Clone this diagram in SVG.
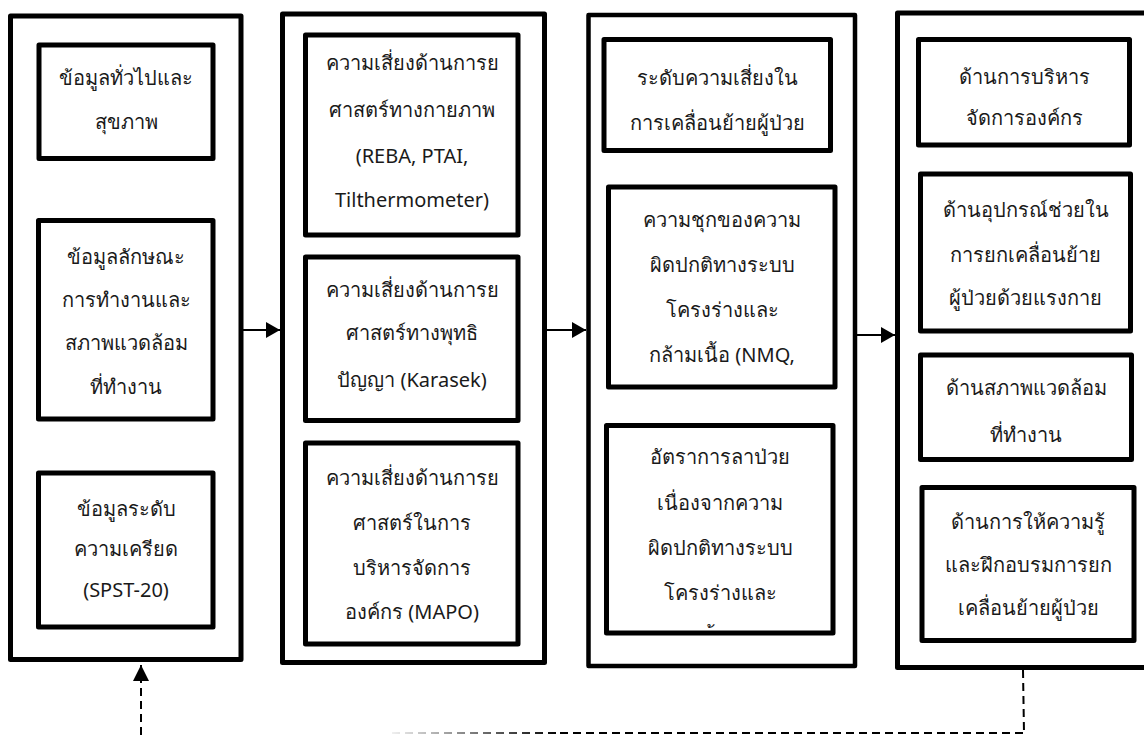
<svg xmlns="http://www.w3.org/2000/svg" width="1144" height="735" viewBox="0 0 1144 735">
<style>
.outer{fill:#fff;stroke:#000;stroke-width:5;stroke-linejoin:round}
.inner{fill:#fff;stroke:#000;stroke-width:5;stroke-linejoin:round}
.t{font-family:"Noto Sans","DejaVu Sans",sans-serif;font-size:20px;fill:#1a1a1a;text-anchor:middle}
.arrow{stroke:#000;stroke-width:2;fill:none}
.dash{stroke:#000;stroke-width:2;fill:none;stroke-dasharray:8 5}
</style>
<defs>
<marker id="ah" markerWidth="14" markerHeight="16" refX="14" refY="8" orient="auto" markerUnits="userSpaceOnUse">
<path d="M0,0 L14,8 L0,16 Z" fill="#000"/>
</marker>
<marker id="ahd" markerWidth="16" markerHeight="17" refX="16" refY="8" orient="auto" markerUnits="userSpaceOnUse">
<path d="M0,0 L16,8 L0,16 Z" fill="#000"/>
</marker>
<linearGradient id="fade" gradientUnits="userSpaceOnUse" x1="390" y1="0" x2="560" y2="0">
<stop offset="0" stop-color="#000" stop-opacity="0.05"/>
<stop offset="1" stop-color="#000" stop-opacity="1"/>
</linearGradient>
<clipPath id="clip3c"><rect x="609" y="428" width="222" height="200"/></clipPath>
</defs>

<g id="connectors">
<line class="arrow" x1="243" y1="330" x2="280" y2="330" marker-end="url(#ah)"/>
<line class="arrow" x1="547" y1="330" x2="586" y2="330" marker-end="url(#ah)"/>
<line class="arrow" x1="857" y1="335" x2="895" y2="335" marker-end="url(#ah)"/>
<line class="dash" x1="392" y1="733" x2="560" y2="733" style="stroke:url(#fade)"/>
<line class="dash" x1="1023" y1="670" x2="1024" y2="733"/>
<line class="dash" x1="560" y1="733" x2="1024" y2="733"/>
<line class="dash" x1="141" y1="735" x2="141" y2="665" marker-end="url(#ahd)"/>
</g>

<g id="col1">
<rect class="outer" x="10.5" y="16" width="230.5" height="643.5"/>
<g id="n1a">
<rect class="inner" x="39" y="45" width="174" height="113.5"/>
<text class="t" x="126" y="85">ข้อมูลทั่วไปและ</text>
<text class="t" x="126" y="129">สุขภาพ</text>
</g>
<g id="n1b">
<rect class="inner" x="38.5" y="220.5" width="174.5" height="198.5"/>
<text class="t" x="126" y="264">ข้อมูลลักษณะ</text>
<text class="t" x="126" y="307">การทำงานและ</text>
<text class="t" x="126" y="350">สภาพแวดล้อม</text>
<text class="t" x="126" y="394">ที่ทำงาน</text>
</g>
<g id="n1c">
<rect class="inner" x="38.5" y="473" width="174.5" height="154"/>
<text class="t" x="126" y="516">ข้อมูลระดับ</text>
<text class="t" x="126" y="556">ความเครียด</text>
<text class="t" x="126" y="597">(SPST-20)</text>
</g>
</g>

<g id="col2">
<rect class="outer" x="282.5" y="14" width="262" height="648.5"/>
<g id="n2a">
<rect class="inner" x="305.5" y="35" width="212.5" height="200"/>
<text class="t" x="412" y="70">ความเสี่ยงด้านการย</text>
<text class="t" x="412" y="117">ศาสตร์ทางกายภาพ</text>
<text class="t" x="412" y="163">(REBA, PTAI,</text>
<text class="t" x="412" y="207">Tilthermometer)</text>
</g>
<g id="n2b">
<rect class="inner" x="305.5" y="257" width="212.5" height="163.5"/>
<text class="t" x="412" y="297">ความเสี่ยงด้านการย</text>
<text class="t" x="412" y="340">ศาสตร์ทางพุทธิ</text>
<text class="t" x="412" y="387">ปัญญา (Karasek)</text>
</g>
<g id="n2c">
<rect class="inner" x="305.5" y="443" width="212.5" height="201"/>
<text class="t" x="412" y="485">ความเสี่ยงด้านการย</text>
<text class="t" x="412" y="530">ศาสตร์ในการ</text>
<text class="t" x="412" y="575">บริหารจัดการ</text>
<text class="t" x="412" y="619">องค์กร (MAPO)</text>
</g>
</g>

<g id="col3">
<rect class="outer" x="588.5" y="15" width="266.5" height="651" style="stroke-width:4.5"/>
<g id="n3a">
<rect class="inner" x="604" y="39.5" width="226.5" height="111"/>
<text class="t" x="717" y="85">ระดับความเสี่ยงใน</text>
<text class="t" x="717" y="130">การเคลื่อนย้ายผู้ป่วย</text>
</g>
<g id="n3b">
<rect class="inner" x="608.5" y="187" width="226.5" height="200"/>
<text class="t" x="722" y="227">ความชุกของความ</text>
<text class="t" x="722" y="272">ผิดปกติทางระบบ</text>
<text class="t" x="722" y="317">โครงร่างและ</text>
<text class="t" x="722" y="362">กล้ามเนื้อ (NMQ,</text>
</g>
<g id="n3c">
<rect class="inner" x="606.5" y="425.5" width="226.5" height="207.5"/>
<text class="t" x="720" y="464">อัตราการลาป่วย</text>
<text class="t" x="720" y="510">เนื่องจากความ</text>
<text class="t" x="720" y="555">ผิดปกติทางระบบ</text>
<text class="t" x="720" y="600">โครงร่างและ</text>
<text class="t" x="720" y="645" clip-path="url(#clip3c)">กล้ามเนื้อ (NMQ,</text>
</g>
</g>

<g id="col4">
<rect class="outer" x="897.5" y="13" width="262" height="654.5"/>
<g id="n4a">
<rect class="inner" x="918.5" y="39.5" width="211" height="105.5"/>
<text class="t" x="1024" y="84">ด้านการบริหาร</text>
<text class="t" x="1024" y="125">จัดการองค์กร</text>
</g>
<g id="n4b">
<rect class="inner" x="920.5" y="174" width="210" height="157"/>
<text class="t" x="1025.5" y="217">ด้านอุปกรณ์ช่วยใน</text>
<text class="t" x="1025.5" y="262">การยกเคลื่อนย้าย</text>
<text class="t" x="1025.5" y="305">ผู้ป่วยด้วยแรงกาย</text>
</g>
<g id="n4c">
<rect class="inner" x="920.5" y="355" width="211" height="104.5"/>
<text class="t" x="1026" y="395">ด้านสภาพแวดล้อม</text>
<text class="t" x="1026" y="442">ที่ทำงาน</text>
</g>
<g id="n4d">
<rect class="inner" x="922" y="487.5" width="212" height="153"/>
<text class="t" x="1028" y="529">ด้านการให้ความรู้</text>
<text class="t" x="1028" y="572">และฝึกอบรมการยก</text>
<text class="t" x="1028" y="615">เคลื่อนย้ายผู้ป่วย</text>
</g>
</g>
</svg>
